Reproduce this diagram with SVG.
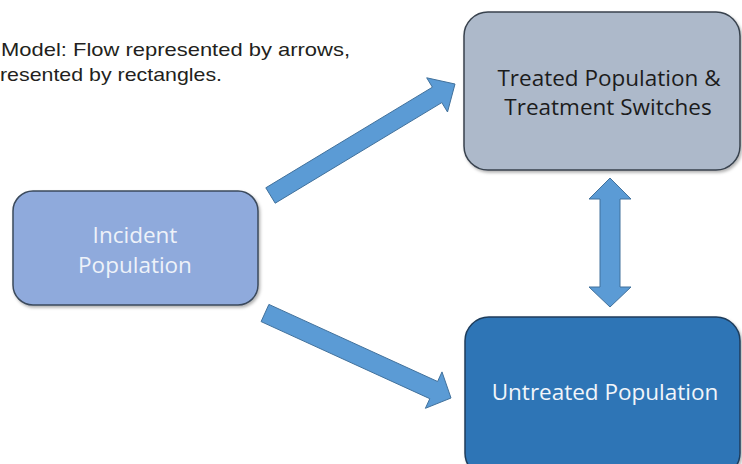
<svg xmlns="http://www.w3.org/2000/svg" width="742" height="464" viewBox="0 0 742 464">
  <defs>
    <filter id="sh" x="-10%" y="-10%" width="125%" height="130%">
      <feDropShadow dx="1.5" dy="2" stdDeviation="1.5" flood-color="#000" flood-opacity="0.3"/>
    </filter>
    <style>
      .title { font-family: "Liberation Sans", Arial, sans-serif; font-size: 19px; fill: #231f20; }
      .lbl { font-family: "Open Sans", "Noto Sans", sans-serif; font-size: 22.5px; text-anchor: middle; }
      .arrow { fill: #5b9bd5; stroke: #41719c; stroke-width: 1; stroke-linejoin: miter; }
    </style>
  </defs>
  <rect width="742" height="464" fill="#ffffff"/>

  <g id="title">
    <text class="title" x="1" y="56" textLength="349" lengthAdjust="spacingAndGlyphs">Model: Flow represented by arrows,</text>
    <text class="title" x="0" y="81" textLength="222" lengthAdjust="spacingAndGlyphs">resented by rectangles.</text>
  </g>

  <g id="connectors">
    <polygon class="arrow" points="265.8,187.8 432.4,87.2 426.7,77.8 455,84 447.5,112 441.8,102.6 275.2,203.2"/>
    <polygon class="arrow" points="268.9,304.4 437.6,381.5 442,371.9 451,398 425.4,408.3 429.8,398.7 261.1,321.6"/>
    <polygon class="arrow" points="610,178 631,199 620,199 620,287 631,287 610,307 589,287 600,287 600,199 589,199"/>
  </g>

  <g id="incident">
    <rect x="13" y="191" width="245" height="114" rx="20" ry="20" fill="#8faadc" stroke="#3b4a5c" stroke-width="1.5" filter="url(#sh)"/>
    <text class="lbl" x="135" y="243" fill="#eef2f9">Incident</text>
    <text class="lbl" x="135" y="272.5" fill="#eef2f9">Population</text>
  </g>

  <g id="treated">
    <rect x="464" y="12" width="276" height="158" rx="24" ry="24" fill="#adb9ca" stroke="#38424e" stroke-width="1.5" filter="url(#sh)"/>
    <text class="lbl" x="609" y="85.5" fill="#1c1c1c">Treated Population &amp;</text>
    <text class="lbl" x="608" y="115" fill="#1c1c1c">Treatment Switches</text>
  </g>

  <g id="untreated">
    <rect x="465" y="317" width="275" height="160" rx="24" ry="24" fill="#2e75b6" stroke="#1f3d5c" stroke-width="1.5" filter="url(#sh)"/>
    <text class="lbl" x="605" y="399.5" fill="#f2f5fa">Untreated Population</text>
  </g>
</svg>
